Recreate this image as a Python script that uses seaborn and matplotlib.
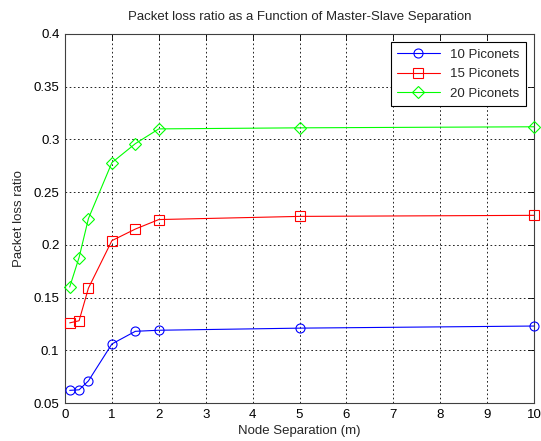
import matplotlib
matplotlib.use("Agg")
import matplotlib.pyplot as plt
import seaborn as sns
import pandas as pd

separation = [0.1, 0.3, 0.5, 1, 1.5, 2, 5, 10]
loss_10 = [0.062, 0.0625, 0.071, 0.106, 0.118, 0.119, 0.121, 0.123]
loss_15 = [0.126, 0.128, 0.159, 0.204, 0.215, 0.224, 0.227, 0.228]
loss_20 = [0.160, 0.188, 0.225, 0.278, 0.296, 0.310, 0.311, 0.312]
series_names = ["10 Piconets", "15 Piconets", "20 Piconets"]
x_ticks = [0, 1, 2, 3, 4, 5, 6, 7, 8, 9, 10]
y_ticks = [0.05, 0.1, 0.15, 0.2, 0.25, 0.3, 0.35, 0.4]
y_tick_labels = ["0.05", "0.1", "0.15", "0.2", "0.25", "0.3", "0.35", "0.4"]

sns.set_style("white")
plt.rcParams["font.family"] = ["Liberation Sans", "DejaVu Sans"]

fig = plt.figure(figsize=(5.41, 4.41), dpi=100)
ax = fig.add_axes([65 / 541, 1 - 403 / 441, (534 - 65) / 541, (403 - 34) / 441])

colors = ["#0000ff", "#ff0000", "#00ff00"]
markers = ["o", "s", "D"]
msizes = [6.5, 7.5, 6.5]
for name, vals, c, m, ms in zip(series_names, [loss_10, loss_15, loss_20], colors, markers, msizes):
    df = pd.DataFrame({"x": separation, "y": vals})
    sns.lineplot(data=df, x="x", y="y", ax=ax, color=c, marker=m, markersize=ms,
                 markerfacecolor="none", markeredgecolor=c, markeredgewidth=0.8,
                 linewidth=0.8, label=name, clip_on=False, zorder=3)

ax.set_xlim(0, 10)
ax.set_ylim(0.05, 0.4)
ax.set_xticks(x_ticks)
ax.set_xticklabels([str(t) for t in x_ticks])
ax.set_yticks(y_ticks)
ax.set_yticklabels(y_tick_labels)
ax.grid(True, color="black", linestyle=(0, (2, 3)), linewidth=0.6)
ax.tick_params(direction="in", length=4, width=0.6, top=True, right=True, labelsize=9.5, pad=4, colors="black")
for sp in ax.spines.values():
    sp.set_visible(True)
    sp.set_color("#404040")
    sp.set_linewidth(0.8)

ax.set_xlabel("Node Separation (m)", fontsize=9.5, labelpad=3)
ax.set_ylabel("Packet loss ratio", fontsize=9.5, labelpad=6)
ax.set_title("Packet loss ratio as a Function of Master-Slave Separation", fontsize=9.5, pad=10)

leg = ax.legend(loc="upper right", fontsize=9.5, frameon=True, fancybox=False,
                edgecolor="black", framealpha=1, borderpad=0.5, handlelength=3.2,
                labelspacing=0.55, borderaxespad=0.6)
leg.get_frame().set_linewidth(0.8)
leg.set_zorder(5)

fig.savefig("out.png", dpi=100)
